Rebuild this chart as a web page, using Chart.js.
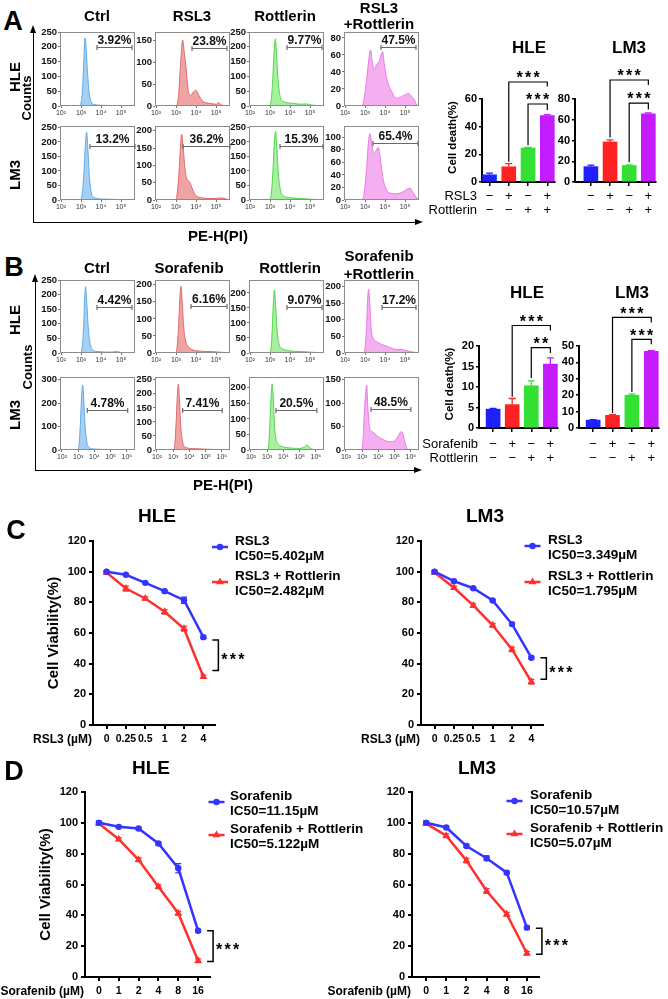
<!DOCTYPE html>
<html lang="en">
<head>
<meta charset="UTF-8">
<meta name="viewport" content="width=device-width, initial-scale=1.0">
<title>Rottlerin with RSL3 / sorafenib in HLE and LM3 cells</title>
<script src="https://cdn.jsdelivr.net/npm/chart.js"></script>
<style>
  body { margin: 0; background: #fff; }
  #fig { position: relative; width: 668px; height: 999px; overflow: hidden;
         font-family: "Liberation Sans", Arial, sans-serif; color: #000; }
  #fig canvas { position: absolute; }
  .t { position: absolute; font-weight: bold; white-space: nowrap; line-height: 1;
       transform: translate(-50%, -50%); }
  .ln { position: absolute; background: #000; }
  .arr { position: absolute; width: 0; height: 0; }
</style>
</head>
<body>
<div id="fig"></div>
<script>
// ---------------- data ----------------
// flow histograms, points are [log10(PE-H), counts]
const aHleCtrl  = [[1.95,0],[2.9,0],[3.0,10],[3.08,60],[3.14,150],[3.2,230],[3.26,190],[3.32,120],[3.4,50],[3.5,15],[3.65,5],[4.2,2],[5.7,0]];
const aHleRsl3  = [[1.95,0],[3.0,0],[3.12,20],[3.22,90],[3.33,151],[3.42,120],[3.5,88],[3.62,33],[3.73,24],[3.87,32],[4.0,36],[4.1,28],[4.2,20],[4.37,10],[4.7,6],[5.03,4],[5.12,8],[5.28,2],[5.5,1],[5.7,0]];
const aHleRott  = [[1.95,0],[2.95,0],[3.05,15],[3.13,80],[3.2,180],[3.27,227],[3.33,170],[3.4,90],[3.5,35],[3.67,15],[4.17,9],[4.5,6],[4.83,7],[5.1,3],[5.7,0]];
const aHleCombo = [[1.95,0],[2.85,0],[2.95,8],[3.1,35],[3.22,60],[3.28,66],[3.36,52],[3.47,43],[3.58,49],[3.7,52],[3.8,60],[3.88,64],[3.96,50],[4.08,33],[4.33,17],[4.58,9],[4.83,11],[5.0,13],[5.17,15],[5.3,12],[5.42,9],[5.6,1],[5.7,0]];
const aLm3Ctrl  = [[1.95,0],[2.95,0],[3.05,15],[3.15,100],[3.22,190],[3.28,234],[3.34,180],[3.42,80],[3.52,25],[3.65,8],[4.2,3],[5.7,0]];
const aLm3Rsl3  = [[1.95,0],[2.95,0],[3.05,15],[3.15,80],[3.22,150],[3.28,190],[3.36,150],[3.45,90],[3.55,60],[3.67,53],[3.77,40],[3.87,24],[4.0,12],[4.3,6],[4.8,4],[5.3,6],[5.5,3],[5.7,0]];
const aLm3Rott  = [[1.95,0],[2.95,0],[3.05,15],[3.14,90],[3.21,190],[3.28,237],[3.34,180],[3.42,90],[3.52,35],[3.65,15],[4.0,8],[4.5,5],[5.0,3],[5.7,0]];
const aLm3Combo = [[1.95,0],[2.85,0],[2.95,10],[3.08,50],[3.18,95],[3.25,106],[3.32,95],[3.4,78],[3.47,73],[3.57,80],[3.67,84],[3.75,70],[3.85,45],[3.92,31],[4.05,18],[4.17,12],[4.58,10],[4.9,13],[5.1,17],[5.25,19],[5.4,12],[5.62,2],[5.7,0]];

const bHleCtrl  = [[1.95,0],[2.95,0],[3.05,15],[3.13,90],[3.18,180],[3.23,227],[3.29,170],[3.36,90],[3.45,35],[3.58,12],[3.8,5],[4.5,3],[4.78,5],[5.0,2],[5.7,0]];
const bHleSor   = [[1.95,0],[2.95,0],[3.05,15],[3.13,80],[3.19,160],[3.25,195],[3.31,150],[3.38,80],[3.48,35],[3.6,20],[3.8,10],[4.3,5],[4.8,4],[5.7,0]];
const bHleRott  = [[1.95,0],[2.95,0],[3.05,15],[3.12,90],[3.17,170],[3.22,210],[3.28,160],[3.35,80],[3.45,30],[3.6,15],[3.9,8],[4.5,5],[5.0,3],[5.7,0]];
const bHleCombo = [[1.95,0],[2.9,0],[3.0,15],[3.08,80],[3.13,160],[3.18,193],[3.24,150],[3.3,80],[3.4,45],[3.55,35],[3.75,28],[4.0,22],[4.3,15],[4.6,10],[4.8,11],[5.0,8],[5.3,4],[5.7,0]];
const bLm3Ctrl  = [[1.88,0],[2.95,0],[3.05,20],[3.14,120],[3.22,240],[3.28,278],[3.34,220],[3.42,110],[3.52,40],[3.65,12],[4.0,4],[5.0,2],[6.5,0]];
const bLm3Sor   = [[1.88,0],[3.0,0],[3.1,20],[3.19,110],[3.26,200],[3.32,235],[3.38,190],[3.46,90],[3.56,35],[3.7,12],[4.2,5],[5.0,3],[6.5,0]];
const bLm3Rott  = [[1.88,0],[3.0,0],[3.1,20],[3.18,100],[3.25,180],[3.31,213],[3.37,170],[3.45,80],[3.55,35],[3.7,18],[4.0,10],[4.5,6],[5.0,5],[5.3,10],[5.45,16],[5.6,9],[5.8,2],[6.5,0]];
const bLm3Combo = [[1.88,0],[2.95,0],[3.05,20],[3.15,90],[3.22,125],[3.28,139],[3.35,90],[3.45,50],[3.58,40],[3.7,38],[3.9,30],[4.2,24],[4.5,19],[4.75,18],[5.0,20],[5.2,28],[5.35,38],[5.45,39],[5.55,28],[5.7,8],[5.85,0],[6.5,0]];

// gated percentages and gate markers [from, to, count level]
const pctA = [['3.92%', '23.8%', '9.77%', '47.5%'], ['13.2%', '36.2%', '15.3%', '65.4%']];
const pctB = [['4.42%', '6.16%', '9.07%', '17.2%'], ['4.78%', '7.41%', '20.5%', '48.5%']];
const gateA = [[[3.8,5.55,198],[3.8,5.55,133],[3.85,5.6,198],[3.8,5.55,69]],
               [[3.45,5.7,187],[3.35,5.7,156],[3.5,5.65,187],[3.4,5.65,91]]];
const gateB = [[[3.8,5.55,158],[3.75,5.55,137],[3.85,5.6,154],[3.85,5.55,140]],
               [[3.56,6.05,173],[3.58,6.02,143],[3.54,6.06,129],[3.54,6.0,88]]];
// count axis of each histogram [max, step]
const yAxA = [[[250,50],[169,50],[250,50],[87,20]], [[255,50],[214,50],[255,50],[118,20]]];
const yAxB = [[[250,50],[214,50],[243,50],[220,50]], [[312,100],[260,50],[235,50],[156,50]]];

// cell death (%) bars
const deathAHle = [5.2, 11.0, 24.6, 48.1];
const errAHle   = [1.2, 2.3, 0.4, 0.6];
const deathALm3 = [14.8, 38.6, 15.9, 65.8];
const errALm3   = [1.4, 2.0, 0.5, 0.8];
const deathBHle = [4.6, 5.7, 10.3, 15.6];
const errBHle   = [0.2, 1.5, 1.2, 1.5];
const deathBLm3 = [4.8, 7.7, 20.0, 46.8];
const errBLm3   = [0.3, 0.4, 0.6, 0.4];
const signs = [['\u2212', '+', '\u2212', '+'], ['\u2212', '\u2212', '+', '+']];
const rowsA = ['RSL3', 'Rottlerin'];
const rowsB = ['Sorafenib', 'Rottlerin'];

// cell viability (%) curves
const rsl3Doses = ['0', '0.25', '0.5', '1', '2', '4'];
const sorDoses  = ['0', '1', '2', '4', '8', '16'];
const cHleRsl3  = [100, 98, 92.7, 87.3, 81.4, 57.3];
const cHleRsl3E = [0.6, 0.5, 0.6, 0.6, 2, 0.8];
const cHleCombo = [99.4, 89, 82.5, 73.8, 62.8, 31.5];
const cHleComboE= [1, 1.6, 1, 1.5, 1.5, 1];
const cLm3Rsl3  = [100, 93.8, 89.2, 81.2, 65.8, 43.9];
const cLm3Rsl3E = [0.8, 0.5, 0.5, 0.6, 0.8, 0.8];
const cLm3Combo = [99.4, 89.5, 78, 65, 49.3, 28.2];
const cLm3ComboE= [1, 1, 1.2, 1.2, 1.5, 1.5];
const dHleSor   = [100, 97.4, 96.3, 86.6, 70.6, 30];
const dHleSorE  = [1.2, 0.5, 0.8, 0.8, 3, 0.8];
const dHleCombo = [99.5, 89.4, 76, 58.6, 41.4, 10.6];
const dHleComboE= [1, 1, 1.2, 1.2, 1.2, 1.2];
const dLm3Sor   = [100, 97, 85, 77, 67.7, 32];
const dLm3SorE  = [1.2, 0.8, 0.8, 1.5, 0.8, 1];
const dLm3Combo = [99.5, 91.7, 75.5, 55.8, 40.7, 15.4];
const dLm3ComboE= [1.2, 1.2, 1.5, 1.5, 1.2, 1.2];
const cHleLegend = [['RSL3', 'IC50=5.402\u00b5M'], ['RSL3 + Rottlerin', 'IC50=2.482\u00b5M']];
const cLm3Legend = [['RSL3', 'IC50=3.349\u00b5M'], ['RSL3 + Rottlerin', 'IC50=1.795\u00b5M']];
const dHleLegend = [['Sorafenib', 'IC50=11.15\u00b5M'], ['Sorafenib + Rottlerin', 'IC50=5.122\u00b5M']];
const dLm3Legend = [['Sorafenib', 'IC50=10.57\u00b5M'], ['Sorafenib + Rottlerin', 'IC50=5.07\u00b5M']];

// ---------------- helpers ----------------
const FONT = '"Liberation Sans", Arial, sans-serif';
Chart.defaults.font.family = FONT;
Chart.defaults.color = '#000';
const fig = document.getElementById('fig');

const HIST_COLORS = [
  { line: '#5eaae8', fill: '#a5cff3' },
  { line: '#e06a6a', fill: '#f0a3a3' },
  { line: '#4fd648', fill: '#a8efa2' },
  { line: '#e97ae2', fill: '#f5aff0' }
];
const BAR_COLORS = ['#2020ff', '#ff2222', '#35e035', '#c41cff'];
const BLUE = '#3434ff', RED = '#ff3030';
const SUP = { 2: '\u00b2', 3: '\u00b3', 4: '\u2074', 5: '\u2075', 6: '\u2076' };

function txt(s, x, y, size, o) {
  o = o || {};
  const d = document.createElement('div');
  d.className = 't';
  d.textContent = s;
  d.style.left = x + 'px';
  d.style.top = y + 'px';
  d.style.fontSize = size + 'px';
  if (o.rot) d.style.transform = 'translate(-50%, -50%) rotate(-90deg)';
  fig.appendChild(d);
}

function box(cls, x, y, w, h, css) {
  const d = document.createElement('div');
  d.className = cls;
  d.style.left = x + 'px'; d.style.top = y + 'px';
  if (w != null) d.style.width = w + 'px';
  if (h != null) d.style.height = h + 'px';
  if (css) Object.assign(d.style, css);
  fig.appendChild(d);
}

function canvasAt(x, y, w, h) {
  const c = document.createElement('canvas');
  c.width = w; c.height = h;
  c.style.left = x + 'px'; c.style.top = y + 'px';
  c.style.width = w + 'px'; c.style.height = h + 'px';
  fig.appendChild(c);
  return c;
}

function baseOpts(m) {
  return {
    responsive: false, animation: false, events: [],
    layout: { padding: { left: 0, top: m.t, right: m.r, bottom: 0 } },
    plugins: { legend: { display: false }, tooltip: { enabled: false } }
  };
}

function stars(ctx, n, x, cy, left) {
  ctx.font = 'bold 16px ' + FONT;
  ctx.textAlign = 'center';
  ctx.textBaseline = 'alphabetic';
  ctx.fillStyle = '#000';
  const gap = 8.5;
  const x0 = left ? x + 4 : x - (n - 1) * gap / 2;
  for (let i = 0; i < n; i++) ctx.fillText('*', x0 + i * gap, cy + 9.3);
}

// ---------------- flow histograms ----------------
function histDecor(gate, pct) {
  return {
    id: 'histDecor',
    afterDatasetsDraw(chart) {
      const { ctx, chartArea: a, scales: { x, y } } = chart;
      ctx.save();
      ctx.strokeStyle = '#8c8c8c'; ctx.lineWidth = 1;
      ctx.strokeRect(a.left + 0.5, a.top + 0.5, a.width - 1, a.height - 1);
      const x0 = x.getPixelForValue(gate[0]), x1 = x.getPixelForValue(gate[1]);
      const gy = Math.round(y.getPixelForValue(gate[2])) + 0.5;
      ctx.strokeStyle = '#6a6a6a'; ctx.lineWidth = 1.2;
      ctx.beginPath();
      ctx.moveTo(x0, gy); ctx.lineTo(x1, gy);
      ctx.moveTo(x0, gy - 2.5); ctx.lineTo(x0, gy + 2.5);
      ctx.moveTo(x1, gy - 2.5); ctx.lineTo(x1, gy + 2.5);
      ctx.stroke();
      ctx.fillStyle = '#111';
      ctx.font = 'bold 12px ' + FONT;
      ctx.textAlign = 'center'; ctx.textBaseline = 'alphabetic';
      ctx.fillText(pct, (x0 + x1) / 2, gy - 4);
      ctx.restore();
    }
  };
}

function hist(left, top, h, pts, col, ax, gate, pct, range) {
  const m = { l: 24, t: 7, r: 2, b: 12 };
  const w = 75;
  const cv = canvasAt(left - m.l, top - m.t, w + m.l + m.r, h + m.t + m.b);
  const opts = baseOpts(m);
  opts.scales = {
    x: {
      type: 'linear', min: range[0], max: range[1],
      afterFit: s => { s.height = m.b; },
      border: { display: false },
      grid: { drawOnChartArea: false, tickLength: 2, color: '#777' },
      ticks: { stepSize: 1, includeBounds: false, autoSkip: false, maxRotation: 0, padding: 1,
               font: { size: 7 }, color: '#333', callback: v => '10' + (SUP[v] || '') }
    },
    y: {
      min: 0, max: ax[0],
      afterFit: s => { s.width = m.l; },
      border: { display: false },
      grid: { drawOnChartArea: false, tickLength: 2, color: '#777' },
      ticks: { stepSize: ax[1], includeBounds: false, padding: 1,
               font: { size: 9.5, weight: 'bold' }, color: '#111' }
    }
  };
  new Chart(cv, {
    type: 'line',
    data: { datasets: [{
      data: pts.map(p => ({ x: p[0], y: p[1] })),
      borderColor: col.line, backgroundColor: col.fill, fill: 'origin',
      borderWidth: 1, pointRadius: 0, cubicInterpolationMode: 'monotone'
    }] },
    options: opts,
    plugins: [histDecor(gate, pct)]
  });
}

const histCols = [60, 155, 249, 344];
const histA = [[aHleCtrl, aHleRsl3, aHleRott, aHleCombo], [aLm3Ctrl, aLm3Rsl3, aLm3Rott, aLm3Combo]];
const histB = [[bHleCtrl, bHleSor, bHleRott, bHleCombo], [bLm3Ctrl, bLm3Sor, bLm3Rott, bLm3Combo]];
[0, 1].forEach(r => {
  [0, 1, 2, 3].forEach(c => {
    hist(histCols[c], [32, 126][r], 74, histA[r][c], HIST_COLORS[c], yAxA[r][c], gateA[r][c], pctA[r][c], [1.95, 5.7]);
    hist(histCols[c], [280, 377][r], 73, histB[r][c], HIST_COLORS[c], yAxB[r][c], gateB[r][c], pctB[r][c],
         r ? [1.88, 6.5] : [1.95, 5.7]);
  });
});

// ---------------- cell death bars ----------------
function barDecor(errs, rowNames, rowGap, tickPad, brackets, yTitle) {
  return {
    id: 'barDecor',
    afterDatasetsDraw(chart) {
      const { ctx, chartArea: a, scales: { x, y } } = chart;
      const vals = chart.data.datasets[0].data;
      ctx.save();
      ctx.lineWidth = 1.3;
      vals.forEach((p, i) => {
        const px = x.getPixelForValue(p.x), y0 = y.getPixelForValue(p.y), y1 = y.getPixelForValue(p.y + errs[i]);
        ctx.strokeStyle = BAR_COLORS[i];
        ctx.beginPath();
        ctx.moveTo(px, y0); ctx.lineTo(px, y1);
        ctx.moveTo(px - 3.5, y1); ctx.lineTo(px + 3.5, y1);
        ctx.stroke();
      });
      if (rowNames) {
        ctx.fillStyle = '#000';
        ctx.font = '13px ' + FONT;
        ctx.textAlign = 'right'; ctx.textBaseline = 'middle';
        rowNames.forEach((s, k) => ctx.fillText(s, a.left - rowGap, a.bottom + 4 + tickPad + 7 + k * 14));
      }
      ctx.strokeStyle = '#000'; ctx.lineWidth = 1.2;
      brackets.forEach(b => {
        const x0 = x.getPixelForValue(b.from), x1 = x.getPixelForValue(b.to), yl = y.getPixelForValue(b.level);
        ctx.beginPath();
        ctx.moveTo(x0, y.getPixelForValue(b.l)); ctx.lineTo(x0, yl);
        ctx.lineTo(x1, yl); ctx.lineTo(x1, y.getPixelForValue(b.r));
        ctx.stroke();
        stars(ctx, b.n, (x0 + x1) / 2, yl - 8);
      });
      if (yTitle) {
        ctx.save();
        ctx.translate(a.left - 29, (a.top + a.bottom) / 2 - 3);
        ctx.rotate(-Math.PI / 2);
        ctx.font = 'bold 11.5px ' + FONT;
        ctx.textAlign = 'center'; ctx.textBaseline = 'middle';
        ctx.fillStyle = '#000';
        ctx.fillText(yTitle, 0, 0);
        ctx.restore();
      }
      ctx.restore();
    }
  };
}

function bars(b, xMin, vals, errs, ax, rowNames, rowGap, tickPad, brackets, yTitle) {
  const m = { l: b.l, t: 50, r: b.r, b: 40 };
  const cv = canvasAt(b.x - m.l, b.y - m.t, b.w + m.l + m.r, b.h + m.t + m.b);
  const opts = baseOpts(m);
  opts.scales = {
    x: {
      type: 'linear', min: xMin, max: 3.4, offset: false,
      afterFit: s => { s.height = m.b; },
      border: { color: '#000', width: 2 },
      grid: { offset: false, drawOnChartArea: false, tickLength: 4, color: '#000', lineWidth: 1.5 },
      ticks: { stepSize: 1, includeBounds: false, autoSkip: false, maxRotation: 0, padding: tickPad,
               font: { size: 13, lineHeight: 1.08 }, color: '#000',
               callback: v => [signs[0][v], signs[1][v]] }
    },
    y: {
      min: 0, max: ax[0],
      afterFit: s => { s.width = m.l; },
      border: { color: '#000', width: 2 },
      grid: { drawOnChartArea: false, tickLength: 3, color: '#000', lineWidth: 1.5 },
      ticks: { stepSize: ax[1], includeBounds: false, padding: 2, font: { size: 11, weight: 'bold' } }
    }
  };
  new Chart(cv, {
    type: 'bar',
    data: { datasets: [{ data: vals.map((v, i) => ({ x: i, y: v })), backgroundColor: BAR_COLORS,
                         barThickness: 14, borderWidth: 0 }] },
    options: opts,
    plugins: [barDecor(errs, rowNames, rowGap, tickPad, brackets, yTitle)]
  });
}

bars({ x: 482, y: 99, w: 73, h: 83, l: 60, r: 20 }, -0.39, deathAHle, errAHle, [60, 20], rowsA, 5, 3,
     [{ from: 1, to: 3, level: 72.3, l: 14.7, r: 69, n: 3 }, { from: 2, to: 3, level: 56.4, l: 26.5, r: 52, n: 3 }],
     'Cell death(%)');
bars({ x: 575, y: 99, w: 81, h: 83, l: 30, r: 12 }, -0.83, deathALm3, errALm3, [80, 20], null, 0, 3,
     [{ from: 1, to: 3, level: 98.3, l: 43, r: 93.5, n: 3 }, { from: 2, to: 3, level: 76, l: 19, r: 70, n: 3 }],
     null);
bars({ x: 479, y: 346, w: 79, h: 82, l: 60, r: 20 }, -0.74, deathBHle, errBHle, [20, 5], rowsB, 1, 5,
     [{ from: 1, to: 3, level: 25, l: 7.6, r: 23.8, n: 3 }, { from: 2, to: 3, level: 19.6, l: 12.2, r: 18.3, n: 2 }],
     'Cell death(%)');
bars({ x: 579, y: 346, w: 80, h: 82, l: 30, r: 9 }, -0.73, deathBLm3, errBLm3, [50, 10], null, 0, 5,
     [{ from: 1, to: 3, level: 67.4, l: 9.1, r: 64.4, n: 3 }, { from: 2, to: 3, level: 54, l: 22, r: 51, n: 3 }],
     null);

// ---------------- viability curves ----------------
function marker(ctx, style, x, y, color) {
  ctx.fillStyle = color;
  ctx.beginPath();
  if (style === 'triangle') {
    const r = 4.5;
    ctx.moveTo(x, y - r);
    ctx.lineTo(x - r * 0.866, y + r * 0.5);
    ctx.lineTo(x + r * 0.866, y + r * 0.5);
    ctx.closePath();
  } else {
    ctx.arc(x, y, 3.2, 0, Math.PI * 2);
  }
  ctx.fill();
}

function curveDecor(errs, lg, bracket, xName, yTitle) {
  return {
    id: 'curveDecor',
    beforeDatasetsDraw(chart) {
      const { ctx, scales: { x, y } } = chart;
      ctx.save();
      ctx.lineWidth = 1.3;
      chart.data.datasets.forEach((ds, k) => {
        ctx.strokeStyle = ds.borderColor;
        ds.data.forEach((p, i) => {
          const px = x.getPixelForValue(p.x);
          const yt = y.getPixelForValue(p.y + errs[k][i]), yb = y.getPixelForValue(p.y - errs[k][i]);
          ctx.beginPath();
          ctx.moveTo(px, yt); ctx.lineTo(px, yb);
          ctx.moveTo(px - 3, yt); ctx.lineTo(px + 3, yt);
          ctx.moveTo(px - 3, yb); ctx.lineTo(px + 3, yb);
          ctx.stroke();
        });
      });
      ctx.restore();
    },
    afterDatasetsDraw(chart) {
      const { ctx, chartArea: a, scales: { x, y } } = chart;
      ctx.save();
      // legend
      chart.data.datasets.forEach((ds, k) => {
        const mx = a.left + lg.dx, my = a.top + lg.dy + k * lg.gap;
        ctx.strokeStyle = ds.borderColor; ctx.lineWidth = 2.5;
        ctx.beginPath(); ctx.moveTo(mx - 8, my); ctx.lineTo(mx + 8, my); ctx.stroke();
        marker(ctx, ds.pointStyle, mx, my, ds.borderColor);
        ctx.fillStyle = '#000';
        ctx.font = 'bold 13.5px ' + FONT;
        ctx.textAlign = 'left'; ctx.textBaseline = 'middle';
        ctx.fillText(lg.items[k][0], a.left + lg.tx, my - 6);
        ctx.fillText(lg.items[k][1], a.left + lg.tx, my + 9);
      });
      // significance bracket
      const last = chart.data.datasets[0].data.length - 1;
      const xb = x.getPixelForValue(last) + 15;
      const yt = y.getPixelForValue(bracket[0]), yb = y.getPixelForValue(bracket[1]);
      ctx.strokeStyle = '#000'; ctx.lineWidth = 1.5;
      ctx.beginPath();
      ctx.moveTo(xb - 6, yt); ctx.lineTo(xb, yt); ctx.lineTo(xb, yb); ctx.lineTo(xb - 6, yb);
      ctx.stroke();
      stars(ctx, 3, xb + 2, (yt + yb) / 2, true);
      // axis names
      ctx.fillStyle = '#000';
      ctx.font = 'bold 12px ' + FONT;
      ctx.textAlign = 'right'; ctx.textBaseline = 'middle';
      ctx.fillText(xName, a.left - 1, a.bottom + 15);
      if (yTitle) {
        ctx.translate(a.left - 39, (a.top + a.bottom) / 2);
        ctx.rotate(-Math.PI / 2);
        ctx.font = 'bold 15px ' + FONT;
        ctx.textAlign = 'center';
        ctx.fillText(yTitle, 0, 0);
      }
      ctx.restore();
    }
  };
}

function curves(b, doses, s1, e1, s2, e2, lg, bracket, xName, yTitle) {
  const m = { l: b.l, t: 20, r: b.r, b: b.b };
  const cv = canvasAt(b.x - m.l, b.y - m.t, b.w + m.l + m.r, b.h + m.t + m.b);
  const opts = baseOpts(m);
  opts.scales = {
    x: {
      type: 'linear', min: -0.7, max: 5.6,
      afterFit: s => { s.height = m.b; },
      border: { color: '#000', width: 2 },
      grid: { drawOnChartArea: false, tickLength: 4, color: '#000', lineWidth: 2 },
      ticks: { stepSize: 1, includeBounds: false, autoSkip: false, maxRotation: 0, padding: 4,
               font: { size: 10.5, weight: 'bold' }, callback: v => doses[v] }
    },
    y: {
      min: 0, max: 120,
      afterFit: s => { s.width = m.l; },
      border: { color: '#000', width: 2 },
      grid: { drawOnChartArea: false, tickLength: 4, color: '#000', lineWidth: 2 },
      ticks: { stepSize: 20, padding: 3, font: { size: 11, weight: 'bold' } }
    }
  };
  const ds = (vals, color, style, r) => ({
    data: vals.map((v, i) => ({ x: i, y: v })),
    borderColor: color, backgroundColor: color, borderWidth: 2.5, tension: 0,
    pointStyle: style, pointRadius: r, pointBorderWidth: 0, pointBackgroundColor: color
  });
  new Chart(cv, {
    type: 'line',
    data: { datasets: [ds(s1, BLUE, 'circle', 3.2), ds(s2, RED, 'triangle', 4.5)] },
    options: opts,
    plugins: [curveDecor([e1, e2], lg, bracket, xName, yTitle)]
  });
}

curves({ x: 93, y: 541, w: 122, h: 184, l: 93, r: 150, b: 25 }, rsl3Doses, cHleRsl3, cHleRsl3E, cHleCombo, cHleComboE,
       { dx: 127, tx: 142, dy: 6, gap: 35, items: cHleLegend }, [55.5, 35.5], 'RSL3 (\u00b5M)', 'Cell Viability(%)');
curves({ x: 421, y: 541, w: 122, h: 184, l: 100, r: 125, b: 25 }, rsl3Doses, cLm3Rsl3, cLm3Rsl3E, cLm3Combo, cLm3ComboE,
       { dx: 111.5, tx: 127, dy: 5, gap: 36, items: cLm3Legend }, [43.8, 29.8], 'RSL3 (\u00b5M)', null);
curves({ x: 85, y: 792, w: 125, h: 185, l: 85, r: 170, b: 22 }, sorDoses, dHleSor, dHleSorE, dHleCombo, dHleComboE,
       { dx: 131.5, tx: 145, dy: 10, gap: 33, items: dHleLegend }, [30, 10], 'Sorafenib (\u00b5M)', 'Cell Viability(%)');
curves({ x: 412, y: 792, w: 127, h: 185, l: 100, r: 129, b: 22 }, sorDoses, dLm3Sor, dLm3SorE, dLm3Combo, dLm3ComboE,
       { dx: 102.5, tx: 118, dy: 9, gap: 33, items: dLm3Legend }, [31.6, 14.7], 'Sorafenib (\u00b5M)', null);

// ---------------- labels and frames ----------------
txt('A', 13, 21, 27); txt('B', 14, 267, 27); txt('C', 16, 530, 27); txt('D', 14, 771, 27);

txt('Ctrl', 97, 15, 15); txt('RSL3', 192, 15, 15); txt('Rottlerin', 285, 15, 15);
txt('RSL3', 379, 7, 15); txt('+Rottlerin', 379, 23, 15);
txt('Ctrl', 97, 267, 15); txt('Sorafenib', 189, 267, 15); txt('Rottlerin', 290, 267, 15);
txt('Sorafenib', 379, 255, 15); txt('+Rottlerin', 379, 273, 15);

txt('HLE', 14, 77, 15, { rot: true }); txt('LM3', 14, 175, 15, { rot: true }); txt('Counts', 26, 98, 13, { rot: true });
txt('HLE', 14, 320, 15, { rot: true }); txt('LM3', 14, 415, 15, { rot: true }); txt('Counts', 27, 367, 13, { rot: true });
txt('PE-H(PI)', 218, 235, 15); txt('PE-H(PI)', 223, 484, 15);

txt('HLE', 529, 47, 17); txt('LM3', 629, 47, 17);
txt('HLE', 527, 292, 17); txt('LM3', 632, 292, 17);
txt('HLE', 157, 515, 19); txt('LM3', 485, 515, 19);
txt('HLE', 151, 767, 19); txt('LM3', 477, 767, 19);

// axis frames with arrows around the histogram grids
box('ln', 32.5, 32, 1.5, 190.5);
box('arr', 30.2, 25, null, null, { borderLeft: '3px solid transparent', borderRight: '3px solid transparent', borderBottom: '8px solid #000' });
box('ln', 33, 221.5, 383, 1.5);
box('arr', 415, 219.2, null, null, { borderTop: '3px solid transparent', borderBottom: '3px solid transparent', borderLeft: '8px solid #000' });
box('ln', 34.5, 281, 1.5, 189.5);
box('arr', 32.2, 274, null, null, { borderLeft: '3px solid transparent', borderRight: '3px solid transparent', borderBottom: '8px solid #000' });
box('ln', 35, 469.5, 380, 1.5);
box('arr', 414, 467.2, null, null, { borderTop: '3px solid transparent', borderBottom: '3px solid transparent', borderLeft: '8px solid #000' });
</script>
</body>
</html>
